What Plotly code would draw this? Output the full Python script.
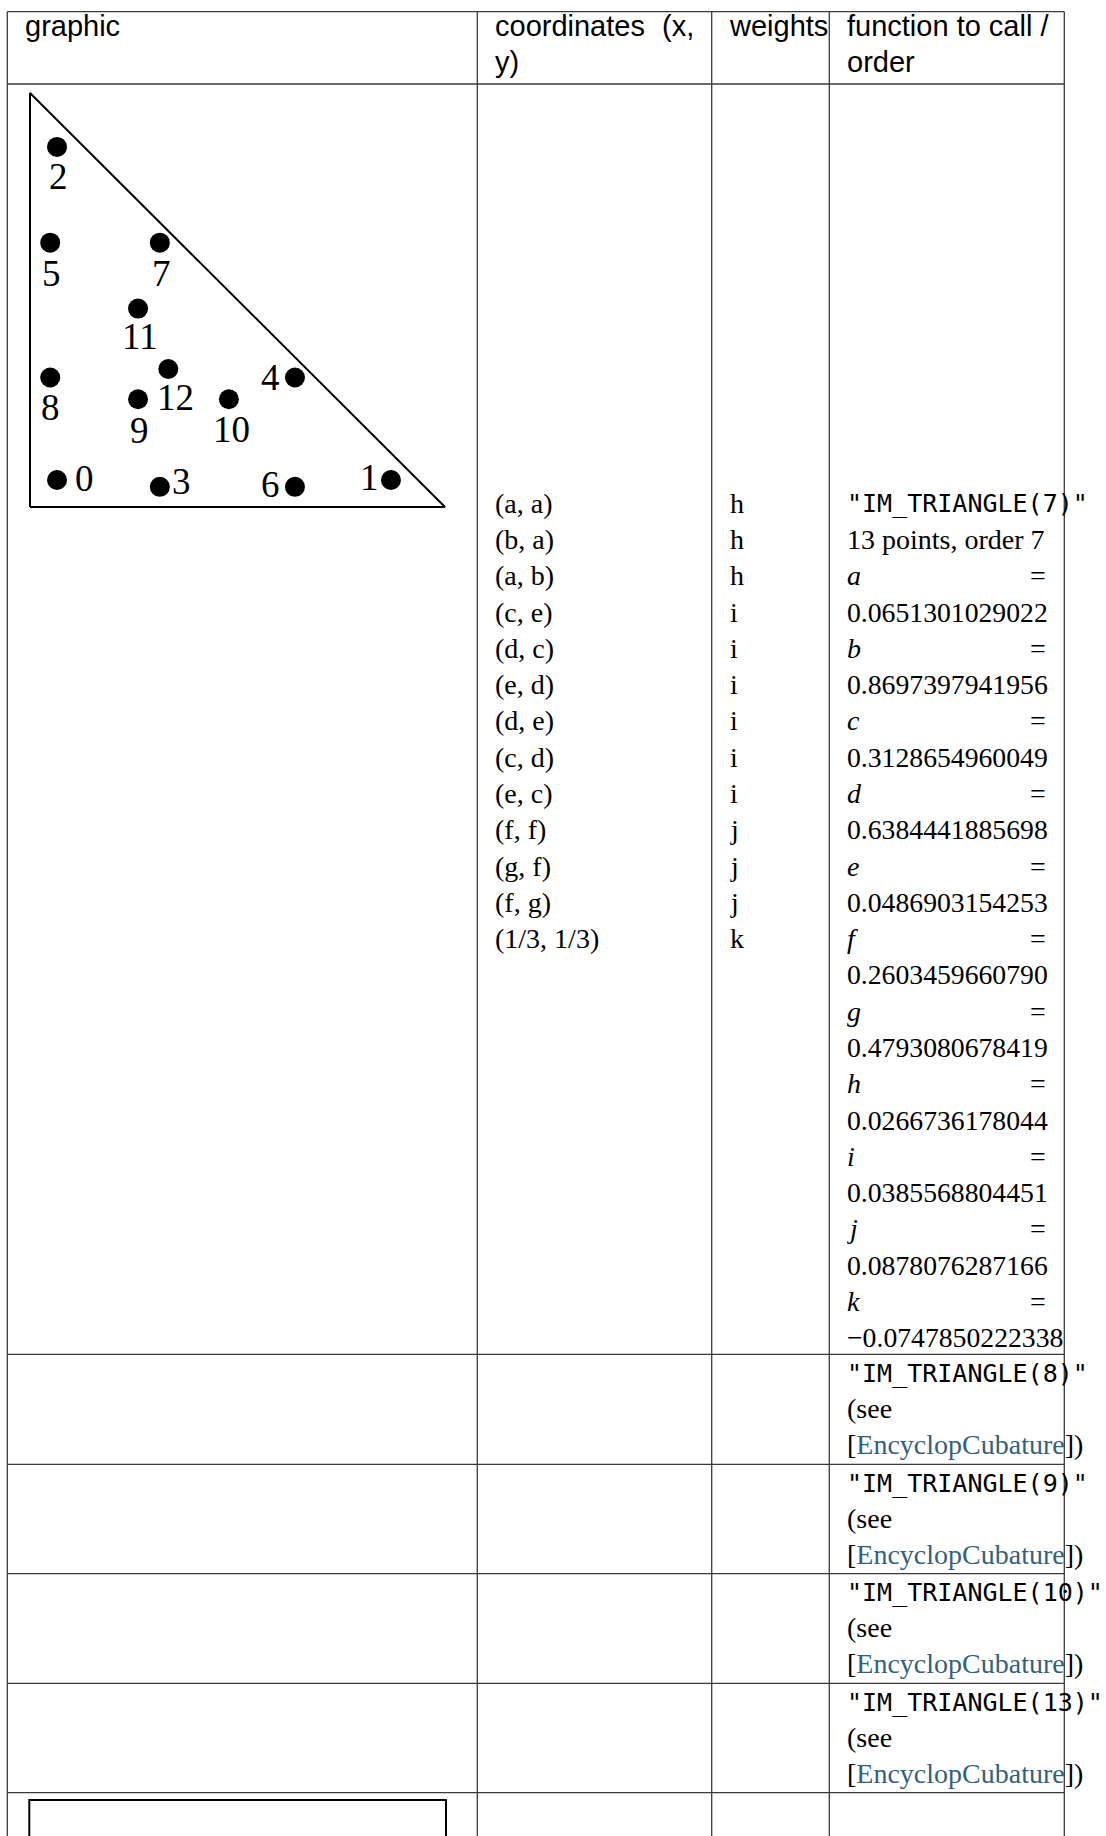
import plotly.graph_objects as go

W, H = 1106, 1836

# ---------------- data ----------------
header_col1 = "graphic"
header_col2_line1 = ["coordinates", "(x,"]
header_col2_line2 = "y)"
header_col3 = "weights"
header_col4 = ["function to call /", "order"]

param_names = ["a", "b", "c", "d", "e", "f", "g", "h", "i", "j", "k"]
param_text = ["0.0651301029022", "0.8697397941956", "0.3128654960049",
              "0.6384441885698", "0.0486903154253", "0.2603459660790",
              "0.4793080678419", "0.0266736178044", "0.0385568804451",
              "0.0878076287166", "\u22120.0747850222338"]
param_values = [0.0651301029022, 0.8697397941956, 0.3128654960049,
                0.6384441885698, 0.0486903154253, 0.2603459660790,
                0.4793080678419, 0.0266736178044, 0.0385568804451,
                0.0878076287166, -0.0747850222338]

point_ids = ["0", "1", "2", "3", "4", "5", "6", "7", "8", "9", "10", "11", "12"]
coord_x_names = ["a", "b", "a", "c", "d", "e", "d", "c", "e", "f", "g", "f", "1/3"]
coord_y_names = ["a", "a", "b", "e", "c", "d", "e", "d", "c", "f", "f", "g", "1/3"]
weight_names = ["h", "h", "h", "i", "i", "i", "i", "i", "i", "j", "j", "j", "k"]

method_names = ["IM_TRIANGLE(7)", "IM_TRIANGLE(8)", "IM_TRIANGLE(9)",
                "IM_TRIANGLE(10)", "IM_TRIANGLE(13)"]
method_info = "13 points, order 7"
ref_name = "EncyclopCubature"

# ---------------- layout / style constants ----------------
col_edges = [7.3, 477.3, 711.7, 829.3, 1064.3]
row_edges = [11.7, 84.0, 1354.3, 1464.3, 1573.7, 1683.3, 1792.7]
pad = 17
LINE_H = 36.28
ROW1_FIRST = 503.3
SERIF = "Liberation Serif, Times New Roman, serif"
SANS = "Liberation Sans, Arial, sans-serif"
MONO = "DejaVu Sans Mono, monospace"
LINK = "#355f7c"
GRID = "#3a3a3a"

# label offsets (pixels) for the triangle point numbers
label_shift = [(27, 2), (-21, 3), (1, -30), (22, 5), (-24, 0), (1, -31), (-24, 2),
               (2, -31), (0, -30), (1, -31), (3, -30), (2, -28), (7, -29)]

value_of = dict(zip(param_names, param_values))
value_of["1/3"] = 1.0 / 3.0
pts_x = [value_of[n] for n in coord_x_names]
pts_y = [value_of[n] for n in coord_y_names]

fig = go.Figure()

# triangle subplot (reference element, unit coordinates)
T_LEFT, T_RIGHT, T_TOP, T_BOTTOM = 30.0, 445.0, 93.0, 507.0
pu = 0.05
sx = (T_RIGHT - T_LEFT)
sy = (T_BOTTOM - T_TOP)
xdom = [(T_LEFT - pu * sx) / W, (T_RIGHT + pu * sx) / W]
ydom = [1 - (T_BOTTOM + pu * sy) / H, 1 - (T_TOP - pu * sy) / H]

fig.add_trace(go.Scatter(x=[0, 1, 0, 0], y=[0, 0, 1, 0], mode="lines",
                         line=dict(color="black", width=2),
                         xaxis="x2", yaxis="y2", hoverinfo="skip"))
fig.add_trace(go.Scatter(x=pts_x, y=pts_y, mode="markers",
                         marker=dict(color="black", size=20),
                         xaxis="x2", yaxis="y2", cliponaxis=False,
                         text=point_ids, hoverinfo="text"))

annotations = []
for pid, px, py, (dx, dy) in zip(point_ids, pts_x, pts_y, label_shift):
    annotations.append(dict(x=px, y=py, xref="x2", yref="y2", text=pid,
                            showarrow=False, xshift=dx, yshift=dy,
                            font=dict(family=SERIF, size=37, color="black"),
                            xanchor="center", yanchor="middle"))


def txt(x, y, text, family=SERIF, size=28, anchor="left", color="black"):
    annotations.append(dict(x=x, y=y, xref="x", yref="y", text=text,
                            showarrow=False, xanchor=anchor, yanchor="middle",
                            font=dict(family=family, size=size, color=color),
                            borderpad=0))


# header
HY1, HY2 = 25.7, 61.7
HS = 29
txt(col_edges[0] + pad, HY1, header_col1, SANS, HS)
txt(col_edges[1] + pad, HY1, header_col2_line1[0], SANS, HS)
txt(col_edges[2] - pad, HY1, header_col2_line1[1], SANS, HS, anchor="right")
txt(col_edges[1] + pad, HY2, header_col2_line2, SANS, HS)
txt(col_edges[2] + pad - 1, HY1, header_col3, SANS, HS)
txt(col_edges[3] + pad, HY1, header_col4[0], SANS, HS)
txt(col_edges[3] + pad, HY2, header_col4[1], SANS, HS)

# row 1 : coordinates and weights
for i, (cx, cy, w) in enumerate(zip(coord_x_names, coord_y_names, weight_names)):
    y = ROW1_FIRST + i * LINE_H
    txt(col_edges[1] + pad, y, f"({cx}, {cy})")
    txt(col_edges[2] + pad, y, w)

# row 1 : function column
x4 = col_edges[3] + pad
txt(x4, ROW1_FIRST, f'"{method_names[0]}"', MONO, 25)
txt(x4, ROW1_FIRST + LINE_H, method_info)
for k, (nm, vt) in enumerate(zip(param_names, param_text)):
    y = ROW1_FIRST + (2 + 2 * k) * LINE_H
    txt(x4, y, f"<i>{nm}</i>", SERIF, 28)
    txt(1047, y, "=", SERIF, 28, anchor="right")
    txt(x4, y + LINE_H, vt, SERIF, 27.7)

# rows 2-5
for r, name in enumerate(method_names[1:]):
    top = row_edges[2 + r]
    txt(x4, top + 19, f'"{name}"', MONO, 25)
    txt(x4, top + 54, "(see")
    txt(x4, top + 90, f'[<span style="color:{LINK}">{ref_name}</span>])')

# table grid
shapes = []
for ry in row_edges:
    shapes.append(dict(type="line", xref="x", yref="y", x0=col_edges[0], x1=col_edges[-1],
                       y0=ry, y1=ry, line=dict(color=GRID, width=1.3)))
for cx in col_edges:
    shapes.append(dict(type="line", xref="x", yref="y", x0=cx, x1=cx,
                       y0=row_edges[0], y1=H + 10, line=dict(color=GRID, width=1.3)))
# start of next graphic (cut off)
shapes.append(dict(type="rect", xref="x", yref="y", x0=29.3, x1=446, y0=1800, y1=H + 20,
                   line=dict(color="black", width=2)))

fig.update_layout(
    width=W, height=H,
    margin=dict(l=0, r=0, t=0, b=0),
    paper_bgcolor="white", plot_bgcolor="rgba(0,0,0,0)",
    showlegend=False,
    xaxis=dict(range=[0, W], visible=False, domain=[0, 1], fixedrange=True),
    yaxis=dict(range=[H, 0], visible=False, domain=[0, 1], fixedrange=True),
    xaxis2=dict(range=[-pu, 1 + pu], domain=xdom, anchor="y2", visible=False, fixedrange=True),
    yaxis2=dict(range=[-pu, 1 + pu], domain=ydom, anchor="x2", visible=False, fixedrange=True),
    annotations=annotations,
    shapes=shapes,
)

fig.write_html("out.html", config={"displayModeBar": False},
               post_script="document.body.style.margin='0px';")
